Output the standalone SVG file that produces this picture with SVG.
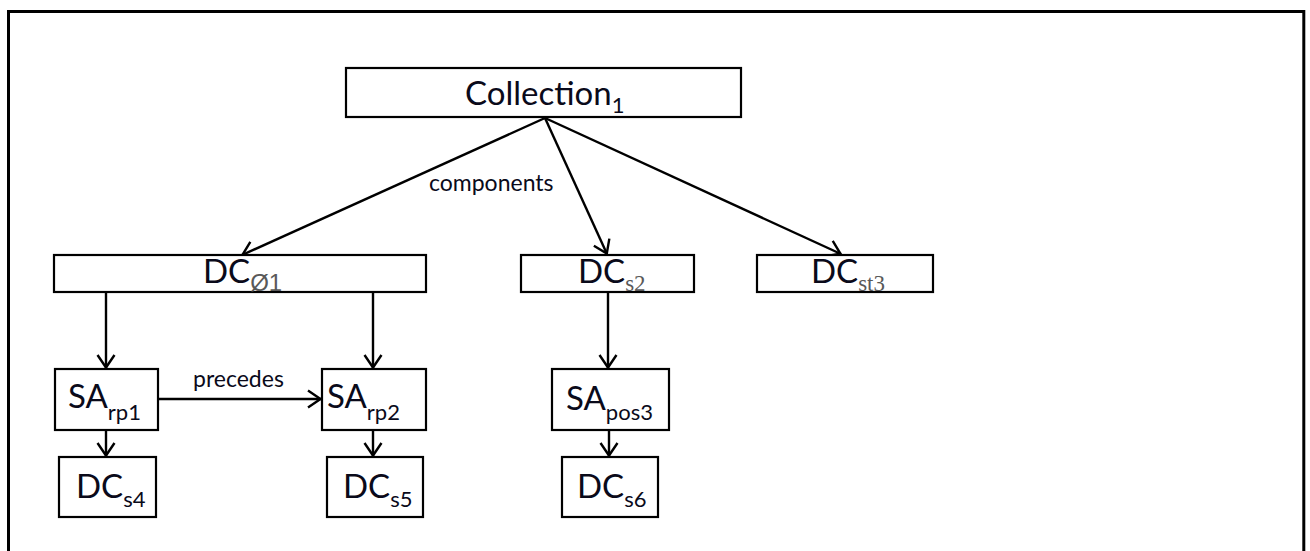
<svg xmlns="http://www.w3.org/2000/svg" width="1310" height="551" viewBox="0 0 1310 551">
<defs>
<marker id="arr" markerWidth="16" markerHeight="20" refX="14" refY="10" orient="auto" markerUnits="userSpaceOnUse">
<path d="M1,1.5 L13.5,10 L1,18.5" fill="none" stroke="#000" stroke-width="2.4"/>
</marker>
<style>
.box{fill:#fff;stroke:#000;stroke-width:2.2}
.t{font-family:Lato,"Liberation Sans",sans-serif;font-size:33px;fill:#0a0a1a}
.sub{font-size:22px}
.gs{font-family:"Liberation Sans",sans-serif;fill:#595959;font-size:24px}
.gr{font-family:"Liberation Serif",serif;fill:#595959;font-size:23px}
.lbl{font-family:Lato,"Liberation Sans",sans-serif;font-size:23px;fill:#0a0a1a}
.c{fill:none;stroke:#000;stroke-width:2.4;marker-end:url(#arr)}
</style>
</defs>
<rect width="1310" height="551" fill="#fff"/>
<path d="M8.5,551 V11.5 H1303.8 V551" fill="none" stroke="#000" stroke-width="3"/>
<g id="connectors">
<line class="c" x1="545" y1="118" x2="242" y2="255"/>
<line class="c" x1="545" y1="118" x2="607" y2="254"/>
<line class="c" x1="545" y1="118" x2="841" y2="254"/>
<line class="c" x1="106" y1="292" x2="106" y2="368"/>
<line class="c" x1="373" y1="292" x2="373" y2="368"/>
<line class="c" x1="608" y1="292" x2="608" y2="368"/>
<line class="c" x1="106" y1="430" x2="106" y2="456"/>
<line class="c" x1="373" y1="430" x2="373" y2="456"/>
<line class="c" x1="609" y1="430" x2="609" y2="456"/>
<line class="c" x1="158" y1="399" x2="321" y2="399"/>
<text class="lbl" x="429" y="191">components</text>
<text class="lbl" x="193" y="387">precedes</text>
</g>
<g id="collection1">
<rect class="box" x="346" y="68" width="395" height="49"/>
<text class="t" x="465" y="105">Collection<tspan class="sub" dy="8">1</tspan></text>
</g>
<g id="dc01">
<rect class="box" x="54" y="255" width="372" height="37"/>
<text class="t" x="203" y="283">DC<tspan class="gs" dy="8">Ø1</tspan></text>
</g>
<g id="dcs2">
<rect class="box" x="521" y="255" width="173" height="37"/>
<text class="t" x="578" y="283">DC<tspan class="gr" dy="8">s2</tspan></text>
</g>
<g id="dcst3">
<rect class="box" x="757" y="255" width="176" height="37"/>
<text class="t" x="811" y="283">DC<tspan class="gr" dy="8">st3</tspan></text>
</g>
<g id="sarp1">
<rect class="box" x="55" y="369" width="103" height="61"/>
<text class="t" x="68" y="408">SA<tspan class="sub" dy="12">rp1</tspan></text>
</g>
<g id="sarp2">
<rect class="box" x="322" y="369" width="104" height="61"/>
<text class="t" x="327" y="408">SA<tspan class="sub" dy="12">rp2</tspan></text>
</g>
<g id="sapos3">
<rect class="box" x="552" y="369" width="117" height="61"/>
<text class="t" x="566" y="410">SA<tspan class="sub" dy="10">pos3</tspan></text>
</g>
<g id="dcs4">
<rect class="box" x="59" y="457" width="97" height="60"/>
<text class="t" x="76" y="498">DC<tspan class="sub" dy="9">s4</tspan></text>
</g>
<g id="dcs5">
<rect class="box" x="327" y="457" width="96" height="60"/>
<text class="t" x="343" y="498">DC<tspan class="sub" dy="9">s5</tspan></text>
</g>
<g id="dcs6">
<rect class="box" x="562" y="457" width="96" height="60"/>
<text class="t" x="577" y="498">DC<tspan class="sub" dy="9">s6</tspan></text>
</g>
</svg>
